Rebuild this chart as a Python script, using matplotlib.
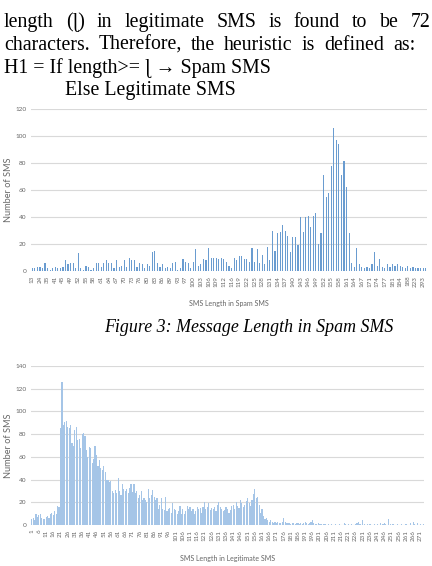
import matplotlib
matplotlib.use('Agg')
import matplotlib.pyplot as plt
import numpy as np

# ---------------- data ----------------
spam_lengths = [13, 15, 19, 24, 27, 32, 35, 37, 39, 41,
                43, 44, 45, 47, 48, 49, 50, 51, 52, 53,
                54, 55, 56, 57, 58, 59, 60, 61, 62, 63,
                64, 65, 66, 67, 68, 69, 70, 71, 72, 73,
                74, 75, 76, 77, 79, 80, 81, 82, 83, 84,
                85, 86, 87, 88, 89, 90, 92, 93, 94, 96,
                97, 98, 99, 100, 101, 102, 103, 104, 105, 106,
                107, 108, 109, 110, 111, 112, 113, 115, 116, 117,
                118, 119, 120, 121, 122, 123, 124, 125, 126, 127,
                128, 129, 130, 131, 132, 133, 134, 135, 136, 137,
                138, 139, 140, 141, 142, 143, 144, 145, 146, 147,
                148, 149, 150, 151, 152, 153, 154, 155, 156, 157,
                158, 159, 160, 161, 162, 163, 164, 165, 166, 167,
                168, 170, 171, 172, 173, 174, 175, 176, 177, 178,
                180, 181, 182, 183, 184, 185, 187, 188, 192, 199,
                223, 236, 259, 293, 446]
spam_counts = [2, 2, 3, 3, 2, 6, 2, 1, 2, 3,
               2, 2, 3, 8, 5, 6, 6, 2, 13, 2,
               1, 4, 3, 1, 2, 6, 6, 3, 6, 8,
               6, 6, 2, 8, 3, 4, 8, 3, 10, 8,
               8, 3, 6, 5, 2, 5, 4, 14, 15, 6,
               3, 5, 2, 3, 2, 6, 7, 1, 2, 9,
               7, 6, 2, 7, 16, 4, 5, 9, 8, 17,
               10, 10, 10, 9, 10, 9, 7, 4, 2, 10,
               8, 11, 11, 9, 9, 7, 17, 7, 16, 6,
               12, 5, 18, 8, 30, 15, 28, 29, 34, 30,
               26, 14, 25, 25, 19, 40, 29, 40, 41, 33,
               41, 43, 20, 28, 71, 55, 58, 78, 106, 97,
               94, 71, 82, 62, 28, 6, 3, 17, 5, 3,
               2, 3, 2, 5, 14, 4, 9, 3, 2, 5,
               3, 5, 4, 5, 4, 3, 2, 4, 2, 3,
               2, 2, 2, 2, 2]

legit_lengths = list(range(1, 274))
legit_counts = [5, 6, 4, 10, 7, 9, 10, 6, 5, 5,
                7, 8, 6, 10, 11, 9, 12, 10, 17, 16,
                85, 126, 88, 91, 92, 86, 85, 88, 72, 70,
                84, 86, 75, 76, 68, 80, 81, 78, 66, 60,
                69, 68, 55, 58, 70, 62, 52, 57, 50, 48,
                52, 47, 40, 40, 38, 39, 30, 28, 31, 28,
                41, 30, 26, 36, 32, 30, 32, 28, 33, 36,
                29, 36, 28, 30, 24, 26, 30, 22, 24, 22,
                20, 32, 24, 26, 31, 25, 22, 24, 14, 18,
                24, 14, 13, 25, 12, 14, 15, 11, 19, 14,
                13, 10, 12, 17, 10, 14, 10, 12, 17, 14,
                16, 12, 14, 10, 12, 16, 14, 15, 11, 16,
                20, 14, 16, 19, 13, 15, 14, 16, 12, 18,
                20, 16, 14, 12, 13, 16, 14, 11, 13, 17,
                18, 14, 20, 17, 15, 22, 19, 16, 18, 21,
                24, 19, 17, 22, 27, 32, 24, 25, 18, 11,
                14, 8, 5, 6, 4, 3, 4, 3, 2, 3,
                2, 3, 2, 2, 3, 6, 3, 2, 2, 2,
                1, 2, 2, 1, 2, 2, 1, 2, 1, 2,
                3, 2, 1, 2, 3, 4, 2, 1, 1, 2,
                1, 1, 0, 1, 1, 0, 1, 0, 1, 0,
                0, 1, 0, 0, 1, 0, 0, 2, 1, 0,
                1, 0, 1, 0, 0, 1, 2, 3, 1, 0,
                4, 1, 0, 1, 0, 1, 0, 0, 1, 0,
                1, 0, 2, 0, 1, 2, 1, 0, 5, 1,
                0, 1, 0, 0, 1, 0, 0, 1, 0, 0,
                1, 0, 0, 2, 0, 3, 1, 0, 2, 0,
                1, 0, 1]

line1 = "length (ɭ) in legitimate SMS is found to be 72"
line2 = "characters. Therefore, the heuristic is defined as:"
line3 = "H1 = If length>= ɭ → Spam SMS"
line4 = "Else Legitimate SMS"
caption = "Figure 3: Message Length in Spam SMS"

# ---------------- figure ----------------
W, H = 432, 566
fig = plt.figure(figsize=(W / 100, H / 100), dpi=100)
fig.patch.set_facecolor('white')


def fx(x):
    return x / W


def fy(y):
    return 1 - y / H


serif = ['Liberation Serif', 'DejaVu Serif']
sans = ['Lato', 'DejaVu Sans']
FS = 14.3

renderer = fig.canvas.get_renderer()


def justified(text, y, x_left, x_right):
    words = text.split()
    texts = [fig.text(0, fy(y), w, family=serif, fontsize=FS, va='baseline')
             for w in words]
    widths = [t.get_window_extent(renderer).width for t in texts]
    gap = (x_right - x_left - sum(widths)) / (len(texts) - 1)
    x = x_left
    for t, w in zip(texts, widths):
        t.set_x(fx(x))
        x += w + gap


justified(line1, 26.7, 4, 430.5)
justified(line2, 49.5, 4, 415)
fig.text(fx(4), fy(72.5), line3, family=serif, fontsize=FS, va='baseline')
fig.text(fx(65), fy(94.8), line4, family=serif, fontsize=FS, va='baseline')
fig.text(fx(104), fy(331.7), caption, family=serif, fontsize=12.9,
         style='italic', va='baseline')

tick_color = '#666666'
grid_color = '#d9d9d9'


def style_axes(ax, ymax, xlabel, cats, every, xlab_y):
    ax.set_ylim(0, ymax)
    ax.set_yticks(range(0, ymax + 1, 20))
    ax.grid(axis='y', color=grid_color, lw=0.8)
    ax.set_axisbelow(True)
    for s in ax.spines.values():
        s.set_visible(False)
    idx = np.arange(len(cats))
    ax.set_xticks(idx[::every])
    ax.set_xticklabels([str(c) for c in cats[::every]], rotation=90,
                       family=sans, fontsize=4.5, color=tick_color)
    for lab in ax.get_yticklabels():
        lab.set_family(sans)
        lab.set_fontsize(4.6)
        lab.set_color(tick_color)
    ax.tick_params(axis='both', length=0)
    ax.tick_params(axis='x', pad=3.5)
    ax.tick_params(axis='y', pad=3.5)
    ax.set_xlim(-0.5, len(cats) - 0.5)
    ax.set_ylabel('Number of SMS', family=sans, fontsize=6.6, color=tick_color)
    ax.yaxis.set_label_coords(-0.045, 0.5)
    ax.set_xlabel(xlabel, family=sans, fontsize=5.0, color=tick_color)
    ax.xaxis.set_label_coords(0.5, xlab_y)


# chart 1 : spam
ax1 = fig.add_axes([fx(31), fy(271), (427 - 31) / W, (271 - 109.3) / H])
ax1.bar(np.arange(len(spam_lengths)), spam_counts, width=0.45,
        color='#6a9cd0', linewidth=0)
style_axes(ax1, 120, 'SMS Length in Spam SMS', spam_lengths, 3, -0.18)

# chart 2 : legitimate
ax2 = fig.add_axes([fx(31), fy(525), (424 - 31) / W, (525 - 366) / H])
ax2.bar(np.arange(len(legit_lengths)), legit_counts, width=0.8,
        color='#a5c5e7', linewidth=0)
style_axes(ax2, 140, 'SMS Length in Legitimate SMS', legit_lengths, 5, -0.19)

fig.savefig('out.png', dpi=100, facecolor='white')
